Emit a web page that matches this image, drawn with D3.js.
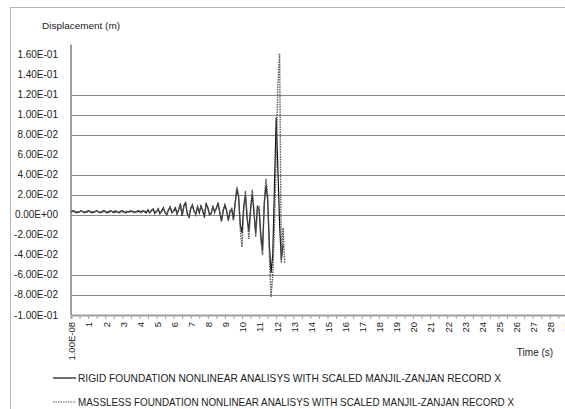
<!DOCTYPE html>
<html>
<head>
<meta charset="utf-8">
<script src="https://cdn.jsdelivr.net/npm/d3@7"></script>
<style>
  body { margin: 0; background: #fff; }
  text { font-family: "Liberation Sans", Arial, sans-serif; fill: #222; }
</style>
</head>
<body>
<div id="chart"></div>
<script>
// Time steps (s)
var time = [
  0.0, 0.1, 0.2, 0.3, 0.4, 0.5, 0.6, 0.7, 0.8, 0.9,
  1.0, 1.1, 1.2, 1.3, 1.4, 1.5, 1.6, 1.7, 1.8, 1.9,
  2.0, 2.1, 2.2, 2.3, 2.4, 2.5, 2.6, 2.7, 2.8, 2.9,
  3.0, 3.1, 3.2, 3.3, 3.4, 3.5, 3.6, 3.7, 3.8, 3.9,
  4.0, 4.1, 4.2, 4.3, 4.4, 4.5, 4.6, 4.7, 4.8, 4.9,
  5.0, 5.1, 5.2, 5.3, 5.4, 5.5, 5.6, 5.7, 5.8, 5.9,
  6.0, 6.1, 6.2, 6.3, 6.4, 6.5, 6.6, 6.7, 6.8, 6.9,
  7.0, 7.1, 7.2, 7.3, 7.4, 7.5, 7.6, 7.7, 7.8, 7.9,
  8.0, 8.1, 8.2, 8.3, 8.4, 8.5, 8.6, 8.7, 8.8, 8.9,
  9.0, 9.1, 9.2, 9.3, 9.4, 9.5, 9.6, 9.7, 9.8, 9.9,
  10.0, 10.1, 10.2, 10.3, 10.4, 10.5, 10.6, 10.7, 10.8, 10.9,
  11.0, 11.1, 11.2, 11.3, 11.4, 11.5, 11.6, 11.7, 11.8, 11.9,
  12.0, 12.1, 12.2, 12.3, 12.4, 12.5
];

// Rigid foundation displacement (m)
var rigid = [
  0.003, 0.004, 0.003, 0.002, 0.003, 0.003, 0.004, 0.003, 0.002, 0.003,
  0.004, 0.003, 0.002, 0.003, 0.003, 0.004, 0.003, 0.002, 0.003, 0.004,
  0.003, 0.002, 0.003, 0.004, 0.003, 0.002, 0.004, 0.003, 0.002, 0.003,
  0.004, 0.003, 0.002, 0.003, 0.003, 0.004, 0.003, 0.003, 0.003, 0.004,
  0.003, 0.003, 0.004, 0.003, 0.002, 0.005, 0.002, 0.004, 0.006, 0.002,
  0.003, 0.006, 0.001, 0.004, 0.007, 0.002, 0.000, 0.005, 0.008, 0.002,
  0.004, 0.007, 0.001, 0.005, 0.011, -0.001, 0.009, 0.012, 0.001, -0.002,
  0.006, 0.010, 0.003, 0.001, 0.008, 0.002, 0.009, 0.004, -0.002, 0.011,
  0.007, 0.000, 0.002, 0.008, 0.003, 0.006, 0.012, 0.002, -0.006, 0.004,
  0.010, 0.004, -0.005, 0.003, 0.006, -0.004, 0.012, 0.026, 0.018, -0.010,
  -0.018, 0.008, 0.020, -0.004, -0.016, 0.006, 0.021, 0.002, -0.018, 0.008,
  0.005, -0.020, -0.036, 0.010, 0.030, 0.015, -0.030, -0.058, -0.040, 0.030,
  0.097, 0.045, -0.010, -0.045, -0.030, null
];

// Massless foundation displacement (m)
var massless = [
  0.003, 0.003, 0.004, 0.003, 0.002, 0.003, 0.004, 0.003, 0.003, 0.002,
  0.003, 0.004, 0.003, 0.002, 0.003, 0.004, 0.003, 0.003, 0.002, 0.003,
  0.004, 0.003, 0.002, 0.003, 0.004, 0.003, 0.003, 0.002, 0.003, 0.004,
  0.003, 0.002, 0.003, 0.004, 0.003, 0.003, 0.004, 0.002, 0.003, 0.003,
  0.004, 0.002, 0.003, 0.004, 0.003, 0.004, 0.002, 0.005, 0.005, 0.001,
  0.004, 0.005, 0.002, 0.003, 0.006, 0.003, 0.001, 0.004, 0.007, 0.003,
  0.003, 0.008, 0.000, 0.006, 0.010, 0.000, 0.008, 0.013, 0.002, -0.003,
  0.007, 0.009, 0.004, 0.000, 0.009, 0.003, 0.008, 0.005, -0.003, 0.010,
  0.008, 0.001, 0.001, 0.009, 0.002, 0.007, 0.011, 0.003, -0.007, 0.005,
  0.009, 0.005, -0.006, 0.004, 0.005, -0.006, 0.010, 0.028, 0.020, -0.015,
  -0.032, 0.004, 0.024, 0.000, -0.024, 0.002, 0.025, 0.006, -0.022, 0.006,
  0.008, -0.025, -0.040, 0.012, 0.036, 0.020, -0.040, -0.082, -0.060, -0.010,
  0.060, 0.130, 0.161, -0.048, -0.013, -0.048
];

// Axis ticks and labels
var yTicks = [0.16, 0.14, 0.12, 0.10, 0.08, 0.06, 0.04, 0.02, 0, -0.02, -0.04, -0.06, -0.08, -0.10];
var yTickLabels = ["1.60E-01", "1.40E-01", "1.20E-01", "1.00E-01", "8.00E-02", "6.00E-02", "4.00E-02",
  "2.00E-02", "0.00E+00", "-2.00E-02", "-4.00E-02", "-6.00E-02", "-8.00E-02", "-1.00E-01"];
var gridValues = [0.12, 0.10, 0.08, 0.04, 0.02, 0, -0.06, -0.08];
var xTicks = [0, 1, 2, 3, 4, 5, 6, 7, 8, 9, 10, 11, 12, 13, 14, 15, 16, 17, 18, 19, 20,
  21, 22, 23, 24, 25, 26, 27, 28, 29];
var xTickLabels = ["1.00E-08", "1", "2", "3", "4", "5", "6", "7", "8", "9", "10", "11", "12", "13",
  "14", "15", "16", "17", "18", "19", "20", "21", "22", "23", "24", "25", "26", "27", "28", "29"];
var seriesNames = [
  "RIGID FOUNDATION NONLINEAR ANALISYS WITH SCALED MANJIL-ZANJAN RECORD X",
  "MASSLESS FOUNDATION NONLINEAR ANALISYS WITH SCALED MANJIL-ZANJAN RECORD X"
];

var svgWidth = 565;
var svgHeight = 409;

var svg = d3.select("#chart")
  .append("svg")
  .attr("width", svgWidth)
  .attr("height", svgHeight);

// Chart border (only left/top visible in the frame)
svg.append("rect")
  .attr("x", 10.5).attr("y", 7.5)
  .attr("width", 600).attr("height", 450)
  .attr("fill", "none")
  .attr("stroke", "#b5b5b5");

// Scales
var xScale = d3.scaleLinear().domain([0, 30]).range([71, 71 + 30 * 17.1]);
var yScale = d3.scaleLinear().domain([-0.1, 0.16]).range([315, 54.5]);

// Gridlines
svg.append("g")
  .selectAll("line")
  .data(gridValues)
  .enter()
  .append("line")
  .attr("x1", xScale(0)).attr("x2", svgWidth)
  .attr("y1", d => Math.round(yScale(d)) + 0.5)
  .attr("y2", d => Math.round(yScale(d)) + 0.5)
  .attr("stroke", "#8a8a8a")
  .attr("stroke-width", 1);

// Y axis line
svg.append("line")
  .attr("x1", xScale(0)).attr("x2", xScale(0))
  .attr("y1", yScale(0.17)).attr("y2", yScale(-0.1))
  .attr("stroke", "#a0a0a0")
  .attr("stroke-width", 2);

// Y tick labels
svg.append("g")
  .selectAll("text")
  .data(yTicks)
  .enter()
  .append("text")
  .attr("x", 58)
  .attr("y", d => yScale(d))
  .attr("dy", "0.35em")
  .attr("text-anchor", "end")
  .style("font-size", "10px")
  .text((d, i) => yTickLabels[i]);

// X axis (ticks every half second, labels rotated)
var xAxis = d3.axisBottom(xScale)
  .tickValues(d3.range(0, 30.5, 0.5))
  .tickSize(4)
  .tickFormat("");
var xAxisG = svg.append("g")
  .attr("transform", `translate(0,${yScale(-0.1)})`)
  .call(xAxis);
xAxisG.select(".domain").attr("stroke", "#a0a0a0").attr("stroke-width", 2);
xAxisG.selectAll(".tick line").attr("stroke", "#a0a0a0");

svg.append("g")
  .selectAll("text")
  .data(xTicks)
  .enter()
  .append("text")
  .attr("transform", d => `translate(${xScale(d) + 1},${yScale(-0.1) + 7}) rotate(-90)`)
  .attr("dy", "0.35em")
  .attr("text-anchor", "end")
  .style("font-size", "9.5px")
  .text((d, i) => xTickLabels[i]);

// Lines
var line = d3.line()
  .defined(d => d[1] !== null)
  .x(d => xScale(d[0]))
  .y(d => yScale(d[1]));

svg.append("path")
  .datum(time.map((t, i) => [t, rigid[i]]))
  .attr("d", line)
  .attr("fill", "none")
  .attr("stroke", "#111")
  .attr("stroke-width", 1.2);

svg.append("path")
  .datum(time.map((t, i) => [t, massless[i]]))
  .attr("d", line)
  .attr("fill", "none")
  .attr("stroke", "#5a5a5a")
  .attr("stroke-width", 1.4)
  .attr("stroke-dasharray", "1.5,1");

// Axis titles
svg.append("text")
  .attr("x", 81).attr("y", 29)
  .attr("text-anchor", "middle")
  .style("font-size", "9px")
  .attr("textLength", 78)
  .attr("lengthAdjust", "spacingAndGlyphs")
  .text("Displacement (m)");

svg.append("text")
  .attr("x", 535).attr("y", 356)
  .attr("text-anchor", "middle")
  .style("font-size", "10px")
  .text("Time (s)");

// Legend
var legendY = [378, 402];
var legendWidths = [423, 436];
var legend = svg.append("g");
legend.append("line")
  .attr("x1", 53).attr("x2", 76)
  .attr("y1", legendY[0]).attr("y2", legendY[0])
  .attr("stroke", "#111").attr("stroke-width", 1.2);
legend.append("line")
  .attr("x1", 53).attr("x2", 76)
  .attr("y1", legendY[1]).attr("y2", legendY[1])
  .attr("stroke", "#5a5a5a").attr("stroke-width", 1.2)
  .attr("stroke-dasharray", "1.5,1");
legend.selectAll("text")
  .data(seriesNames)
  .enter()
  .append("text")
  .attr("x", 78)
  .attr("y", (d, i) => legendY[i])
  .attr("dy", "0.35em")
  .style("font-size", "10.5px")
  .attr("textLength", (d, i) => legendWidths[i])
  .attr("lengthAdjust", "spacingAndGlyphs")
  .text(d => d);
</script>
</body>
</html>
